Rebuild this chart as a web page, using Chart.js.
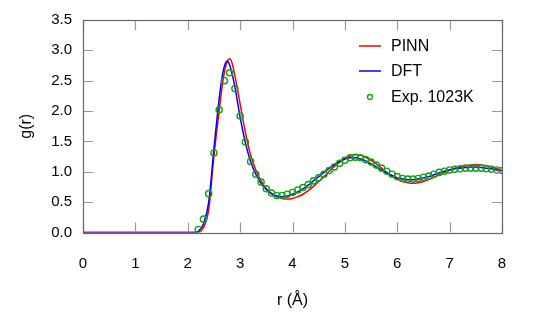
<!DOCTYPE html>
<html>
<head>
<meta charset="utf-8">
<style>
  html, body { margin: 0; padding: 0; background: #fff; }
  canvas { display: block; }
</style>
<script src="https://cdn.jsdelivr.net/npm/chart.js@4.4.0/dist/chart.umd.min.js"></script>
</head>
<body>
<canvas id="gr" width="533" height="320"></canvas>
<script>
// r grid for the simulated curves (finer around the first peak)
var rLine = [0, 0.5, 1, 1.5, 2, 2.1, 2.2, 2.3, 2.4, 2.5, 2.6, 2.65, 2.7, 2.75, 2.8, 2.85, 2.9,
  3.0, 3.1, 3.2, 3.3, 3.4, 3.5, 3.6, 3.7, 3.8, 3.9, 4.0, 4.1, 4.2, 4.3, 4.4, 4.5, 4.6, 4.7, 4.8, 4.9,
  5.0, 5.1, 5.2, 5.3, 5.4, 5.5, 5.6, 5.7, 5.8, 5.9, 6.0, 6.1, 6.2, 6.3, 6.4, 6.5, 6.6, 6.7, 6.8, 6.9,
  7.0, 7.1, 7.2, 7.3, 7.4, 7.5, 7.6, 7.7, 7.8, 7.9, 8.0];

var gPINN = [0, 0, 0, 0, 0, 0, 0.01, 0.08, 0.38, 1.26, 2.00, 2.36, 2.64, 2.81, 2.86, 2.78, 2.58,
  2.12, 1.65, 1.28, 1.03, 0.85, 0.72, 0.64, 0.59, 0.56, 0.55, 0.56, 0.59, 0.63, 0.69, 0.76, 0.84, 0.92, 1.01, 1.09, 1.16,
  1.22, 1.26, 1.28, 1.27, 1.24, 1.19, 1.13, 1.06, 0.99, 0.93, 0.88, 0.84, 0.82, 0.81, 0.82, 0.84, 0.87, 0.91, 0.95, 0.99,
  1.03, 1.06, 1.08, 1.10, 1.11, 1.12, 1.11, 1.10, 1.08, 1.05, 1.02];

var gDFT = [0, 0, 0, 0, 0, 0, 0.02, 0.14, 0.50, 1.38, 2.20, 2.53, 2.74, 2.82, 2.76, 2.60, 2.40,
  1.90, 1.48, 1.17, 0.96, 0.81, 0.71, 0.64, 0.60, 0.59, 0.60, 0.63, 0.67, 0.72, 0.78, 0.85, 0.92, 0.99, 1.06, 1.12, 1.17,
  1.21, 1.23, 1.23, 1.21, 1.18, 1.13, 1.08, 1.03, 0.98, 0.94, 0.90, 0.88, 0.87, 0.87, 0.88, 0.90, 0.92, 0.95, 0.98, 1.01,
  1.03, 1.05, 1.06, 1.07, 1.08, 1.08, 1.07, 1.06, 1.05, 1.03, 1.02];

// experiment at 1023 K
var rExp = [2.2, 2.3, 2.4, 2.5, 2.6, 2.7, 2.8, 2.9, 3.0, 3.1, 3.2, 3.3, 3.4, 3.5, 3.6, 3.7, 3.8, 3.9,
  4.0, 4.1, 4.2, 4.3, 4.4, 4.5, 4.6, 4.7, 4.8, 4.9, 5.0, 5.1, 5.2, 5.3, 5.4, 5.5, 5.6, 5.7, 5.8, 5.9,
  6.0, 6.1, 6.2, 6.3, 6.4, 6.5, 6.6, 6.7, 6.8, 6.9, 7.0, 7.1, 7.2, 7.3, 7.4, 7.5, 7.6, 7.7, 7.8, 7.9, 8.0];
var gExp = [0.05, 0.22, 0.64, 1.31, 2.02, 2.50, 2.63, 2.37, 1.92, 1.49, 1.17, 0.96, 0.83, 0.72, 0.65, 0.61, 0.61, 0.63,
  0.66, 0.70, 0.74, 0.79, 0.85, 0.90, 0.96, 1.02, 1.08, 1.14, 1.19, 1.23, 1.24, 1.23, 1.20, 1.16, 1.11, 1.06, 1.01, 0.96,
  0.92, 0.89, 0.88, 0.88, 0.89, 0.91, 0.93, 0.96, 0.99, 1.01, 1.03, 1.04, 1.05, 1.06, 1.06, 1.06, 1.06, 1.05, 1.04, 1.03, 1.02];

var xTicks = [0, 1, 2, 3, 4, 5, 6, 7, 8];
var yTicks = [0, 0.5, 1.0, 1.5, 2.0, 2.5, 3.0, 3.5];

function pairs(xs, ys) {
  return xs.map(function (x, i) { return { x: x, y: ys[i] }; });
}

var FONT = "'Liberation Sans', Arial, sans-serif";

// frame with inward ticks on all four sides
var frame = {
  id: 'frame',
  afterDraw: function (chart) {
    var c = chart.ctx, a = chart.chartArea;
    var sx = chart.scales.x, sy = chart.scales.y;
    c.save();
    c.lineWidth = 1.2;
    c.strokeStyle = '#999';
    c.beginPath();
    xTicks.forEach(function (t) {
      var px = Math.round(sx.getPixelForValue(t)) + 0.5;
      c.moveTo(px, a.bottom); c.lineTo(px, a.bottom - 10);
      c.moveTo(px, a.top); c.lineTo(px, a.top + 10);
    });
    yTicks.forEach(function (t) {
      var py = Math.round(sy.getPixelForValue(t)) + 0.5;
      c.moveTo(a.left, py); c.lineTo(a.left + 10, py);
      c.moveTo(a.right, py); c.lineTo(a.right - 10, py);
    });
    c.stroke();
    c.strokeStyle = '#666';
    c.lineWidth = 1.2;
    c.strokeRect(Math.round(a.left) + 0.5, Math.round(a.top) + 0.5,
      Math.round(a.right - a.left), Math.round(a.bottom - a.top));
    c.restore();
  }
};

// legend inside the plot, top right
var boxLegend = {
  id: 'boxLegend',
  afterDraw: function (chart) {
    var c = chart.ctx;
    var rows = [46, 71, 97];
    c.save();
    c.font = '16px ' + FONT;
    c.textBaseline = 'middle';
    c.fillStyle = '#000';
    chart.data.datasets.forEach(function (ds, i) {
      var y = rows[i];
      if (ds.showLine === false) {
        c.beginPath();
        c.arc(370, y, 2.5, 0, Math.PI * 2);
        c.strokeStyle = ds.borderColor;
        c.lineWidth = 1.3;
        c.stroke();
      } else {
        c.beginPath();
        c.moveTo(359, y); c.lineTo(381, y);
        c.strokeStyle = ds.borderColor;
        c.lineWidth = 1.5;
        c.stroke();
      }
      c.fillText(ds.label, 391, y + 1);
    });
    c.restore();
  }
};

new Chart(document.getElementById('gr').getContext('2d'), {
  type: 'line',
  data: {
    datasets: [{
      label: 'PINN',
      data: pairs(rLine, gPINN),
      borderColor: '#ff0000',
      borderWidth: 1.5,
      pointRadius: 0,
      cubicInterpolationMode: 'monotone',
      order: 3
    }, {
      label: 'DFT',
      data: pairs(rLine, gDFT),
      borderColor: '#0000ff',
      borderWidth: 1.5,
      pointRadius: 0,
      cubicInterpolationMode: 'monotone',
      order: 2
    }, {
      label: 'Exp. 1023K',
      data: pairs(rExp, gExp),
      showLine: false,
      borderColor: '#14a014',
      backgroundColor: 'rgba(0,0,0,0)',
      pointRadius: 3.1,
      pointBorderWidth: 1.4,
      order: 1
    }]
  },
  options: {
    responsive: false,
    animation: false,
    devicePixelRatio: 1,
    layout: { padding: { left: 0, right: 31, top: 20, bottom: 0 } },
    plugins: { legend: { display: false }, tooltip: { enabled: false } },
    scales: {
      x: {
        type: 'linear', min: 0, max: 8,
        grid: { display: false, drawTicks: false },
        border: { display: false },
        afterBuildTicks: function (s) { s.ticks = xTicks.map(function (v) { return { value: v }; }); },
        afterFit: function (s) { s.height = 87.5; },
        ticks: { padding: 22, color: '#000', font: { family: FONT, size: 15 } },
        title: { display: true, text: 'r (Å)', color: '#000', font: { family: FONT, size: 16 }, padding: { top: 0, bottom: 10 } }
      },
      y: {
        min: 0, max: 3.5,
        grid: { display: false, drawTicks: false },
        border: { display: false },
        afterBuildTicks: function (s) { s.ticks = yTicks.map(function (v) { return { value: v }; }); },
        afterFit: function (s) { s.width = 83; },
        ticks: {
          padding: 11, color: '#000', font: { family: FONT, size: 15 },
          callback: function (v) { return v.toFixed(1); }
        },
        title: { display: true, text: 'g(r)', color: '#000', font: { family: FONT, size: 16 }, padding: { top: 17, bottom: 0 } }
      }
    }
  },
  plugins: [frame, boxLegend]
});
</script>
</body>
</html>
